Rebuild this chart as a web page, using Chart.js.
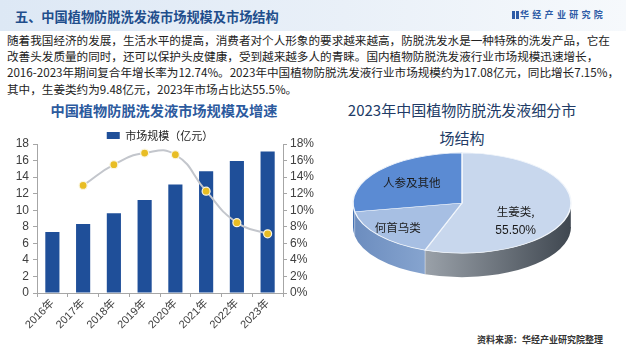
<!DOCTYPE html>
<html><head><meta charset="utf-8">
<script src="https://cdn.jsdelivr.net/npm/chart.js@4.4.1/dist/chart.umd.min.js"></script>
<style>
html,body{margin:0;padding:0;width:626px;height:348px;overflow:hidden;background:#fff;font-family:"Noto Sans CJK SC","Noto Sans",sans-serif;}
#wrap{position:relative;width:626px;height:348px;overflow:hidden;}
.abs{position:absolute;white-space:nowrap;}
#hdr{left:0;top:0;width:626px;height:31px;background:linear-gradient(to right,#dde8f5 0%,#e9f0f8 55%,#f6f9fc 100%);}
#title{left:15px;top:6px;font-size:13.2px;font-weight:bold;color:#1f4e8c;line-height:21px;}
#logo{left:512px;top:8px;font-size:9px;font-weight:bold;color:#2d5ba6;letter-spacing:3.3px;line-height:14px;}
#logo .ic{display:inline-block;width:2.5px;height:8px;background:#2d5ba6;margin-right:1.5px;vertical-align:-1px;}
#para{left:7px;top:31.5px;font-size:11.6px;line-height:16.4px;color:#222;}
#t1{left:0;top:100px;width:328px;text-align:center;font-size:14.2px;font-weight:bold;color:#2c5a9e;line-height:20px;}
#t2{left:312px;top:96px;width:300px;text-align:center;font-size:15px;color:#213b66;line-height:28px;}
#foot{right:23px;top:333px;font-size:9px;font-weight:bold;color:#333;line-height:14px;}
#c1{position:absolute;left:0;top:119px;}
#c2{position:absolute;left:340px;top:94px;}
</style></head>
<body><div id="wrap">
<div id="hdr" class="abs"></div>
<div id="title" class="abs">五、中国植物防脱洗发液市场规模及市场结构</div>
<div id="logo" class="abs"><span class="ic"></span><span class="ic"></span>华经产业研究院</div>
<div id="para" class="abs">随着我国经济的发展，生活水平的提高，消费者对个人形象的要求越来越高，防脱洗发水是一种特殊的洗发产品，它在<br>改善头发质量的同时，还可以保护头皮健康，受到越来越多人的青睐。国内植物防脱洗发液行业市场规模迅速增长，<br>2016-2023年期间复合年增长率为12.74%。2023年中国植物防脱洗发液行业市场规模约为17.08亿元，同比增长7.15%，<br>其中，生姜类约为9.48亿元，2023年市场占比达55.5%。</div>
<div id="t1" class="abs">中国植物防脱洗发液市场规模及增速</div>
<div id="t2" class="abs">2023年中国植物防脱洗发液细分市<br>场结构</div>
<canvas id="c1" width="320" height="229"></canvas>
<canvas id="c2" width="244" height="218"></canvas>
<div id="foot" class="abs">资料来源：华经产业研究院整理</div>
</div>
<script>
// ---- data ----
const years = ['2016年','2017年','2018年','2019年','2020年','2021年','2022年','2023年'];
const marketSize = [7.37, 8.33, 9.62, 11.25, 13.12, 14.70, 15.94, 17.08];
const growthRate = [null, 13.0, 15.5, 16.9, 16.7, 12.3, 8.5, 7.15];
const leftTicks = [0, 2, 4, 6, 8, 10, 12, 14, 16, 18];
const rightTicks = ['0%','2%','4%','6%','8%','10%','12%','14%','16%','18%'];
const pieLabels = ['生姜类','何首乌类','人参及其他'];
const pieShares = [55.5, 16.7, 27.8];
const pieValueLabels = ['55.50%', '', ''];

const axisColor = '#a6a6a6';
const tickFont = {family:'"Liberation Sans", Arial, sans-serif', size:12};

const legendShift = {
  id:'legendShift',
  afterLayout(chart){ if (chart.legend){ chart.legend.top += 7; chart.legend.bottom += 7; } }
};

new Chart(document.getElementById('c1'), {
  data:{
    labels: years,
    datasets:[
      {type:'bar', label:'市场规模（亿元）', data: marketSize, backgroundColor:'#1f4f99', yAxisID:'y', order:2, barPercentage:0.46, categoryPercentage:1},
      {type:'line', label:'增速', data: growthRate, yAxisID:'y1', order:1, borderColor:'#c3c6cc', borderWidth:2, tension:0.5,
       pointRadius:4, pointBackgroundColor:'#e8bd24', pointBorderColor:'#fbf6e0', pointBorderWidth:1.2}
    ]
  },
  options:{
    responsive:false, animation:false, events:[],
    layout:{padding:{top:0,left:0,right:0,bottom:0}},
    plugins:{
      legend:{position:'top', labels:{filter:(it)=>it.datasetIndex===0, boxWidth:13, boxHeight:7, padding:4,
        font:{size:11, family:'"Noto Sans CJK SC", sans-serif'}, color:'#222'}},
      tooltip:{enabled:false}
    },
    scales:{
      x:{grid:{display:true, drawOnChartArea:false, offset:true, tickLength:4, color:axisColor},
         border:{color:axisColor},
         ticks:{minRotation:45, maxRotation:45, padding:0, autoSkip:false, font:{family:'"Liberation Sans", Arial, "Noto Sans CJK SC", sans-serif', size:11}, color:'#404040'},
         afterFit:s=>{s.height=55;}},
      y:{position:'left', min:0, max:18,
         afterBuildTicks:s=>{s.ticks = leftTicks.map(v=>({value:v}));},
         ticks:{font:tickFont, color:'#404040', padding:4, autoSkip:false},
         grid:{drawOnChartArea:false, tickLength:4, color:axisColor}, border:{color:axisColor},
         afterFit:s=>{s.width=37;}},
      y1:{position:'right', min:0, max:18,
         afterBuildTicks:s=>{s.ticks = leftTicks.map(v=>({value:v}));},
         ticks:{font:tickFont, color:'#404040', padding:3, autoSkip:false, callback:(v,i)=>rightTicks[i]},
         grid:{drawOnChartArea:false, tickLength:4, color:axisColor}, border:{color:axisColor},
         afterFit:s=>{s.width=37;}}
    }
  },
  plugins:[legendShift]
});

// 3D pie look
const tilt = 0.46, depth = 24;
const sideColors = [['#9aa1a9','#3f4750'],['#6c8dbf','#86a4cf'],['#4a78bb','#3d68a8']];
const labelRadius = [0.5, 0.77, 0.6];
const labelShift = [[0,14],[0,0],[0,-1]];
const pie3d = {
  id:'pie3d',
  beforeDatasetsDraw(chart){
    const ctx = chart.ctx, meta = chart.getDatasetMeta(0);
    const cx = meta.data[0].x, cy = meta.data[0].y;
    meta.data.forEach((arc,i)=>{
      const r = arc.outerRadius;
      const s = Math.max(arc.startAngle, 0), e = Math.min(arc.endAngle, Math.PI);
      if (e <= s) return;
      const x1 = cx + r*Math.cos(e), x2 = cx + r*Math.cos(s);
      const g = ctx.createLinearGradient(Math.min(x1,x2), 0, Math.max(x1,x2), 0);
      g.addColorStop(0, sideColors[i][0]); g.addColorStop(1, sideColors[i][1]);
      ctx.save();
      ctx.beginPath();
      ctx.ellipse(cx, cy, r, r*tilt, 0, s, e, false);
      ctx.lineTo(cx + r*Math.cos(e), cy + r*tilt*Math.sin(e) + depth);
      ctx.ellipse(cx, cy+depth, r, r*tilt, 0, e, s, true);
      ctx.closePath();
      ctx.fillStyle = g; ctx.fill();
      ctx.strokeStyle = 'rgba(255,255,255,0.5)'; ctx.lineWidth = 0.8;
      ctx.beginPath();
      ctx.moveTo(cx + r*Math.cos(s), cy + r*tilt*Math.sin(s));
      ctx.lineTo(cx + r*Math.cos(s), cy + r*tilt*Math.sin(s) + depth);
      ctx.stroke();
      ctx.restore();
    });
    ctx.save();
    ctx.translate(cx, cy); ctx.scale(1, tilt); ctx.translate(-cx, -cy);
  },
  afterDatasetsDraw(chart){
    const ctx = chart.ctx, meta = chart.getDatasetMeta(0);
    ctx.restore();
    const cx = meta.data[0].x, cy = meta.data[0].y;
    ctx.save();
    ctx.fillStyle = '#1b1b1b';
    ctx.textAlign = 'center'; ctx.textBaseline = 'middle';
    meta.data.forEach((arc,i)=>{
      const mid = (arc.startAngle + arc.endAngle)/2;
      const f = labelRadius[i], r = arc.outerRadius;
      const x = cx + f*r*Math.cos(mid) + labelShift[i][0];
      const y = cy + f*r*tilt*Math.sin(mid) + labelShift[i][1];
      if (pieValueLabels[i]) {
        ctx.font = '11.5px "Noto Sans CJK SC", sans-serif';
        ctx.fillText(pieLabels[i] + ',', x, y - 9.5);
        ctx.font = '12px "Liberation Sans", Arial, sans-serif';
        ctx.fillText(pieValueLabels[i], x, y + 9.5);
      } else {
        ctx.font = '11.5px "Noto Sans CJK SC", sans-serif';
        ctx.fillText(pieLabels[i], x, y);
      }
    });
    ctx.restore();
  }
};

new Chart(document.getElementById('c2'), {
  type:'pie',
  data:{labels: pieLabels, datasets:[{data: pieShares, radius:109,
    backgroundColor:['#c8d7ed','#a7bfe3','#5b8bd3'], borderColor:'#f2f6fb', borderWidth:1.5}]},
  options:{responsive:false, animation:false, events:[],
    plugins:{legend:{display:false}, tooltip:{enabled:false}}},
  plugins:[pie3d]
});
</script>
</body></html>
